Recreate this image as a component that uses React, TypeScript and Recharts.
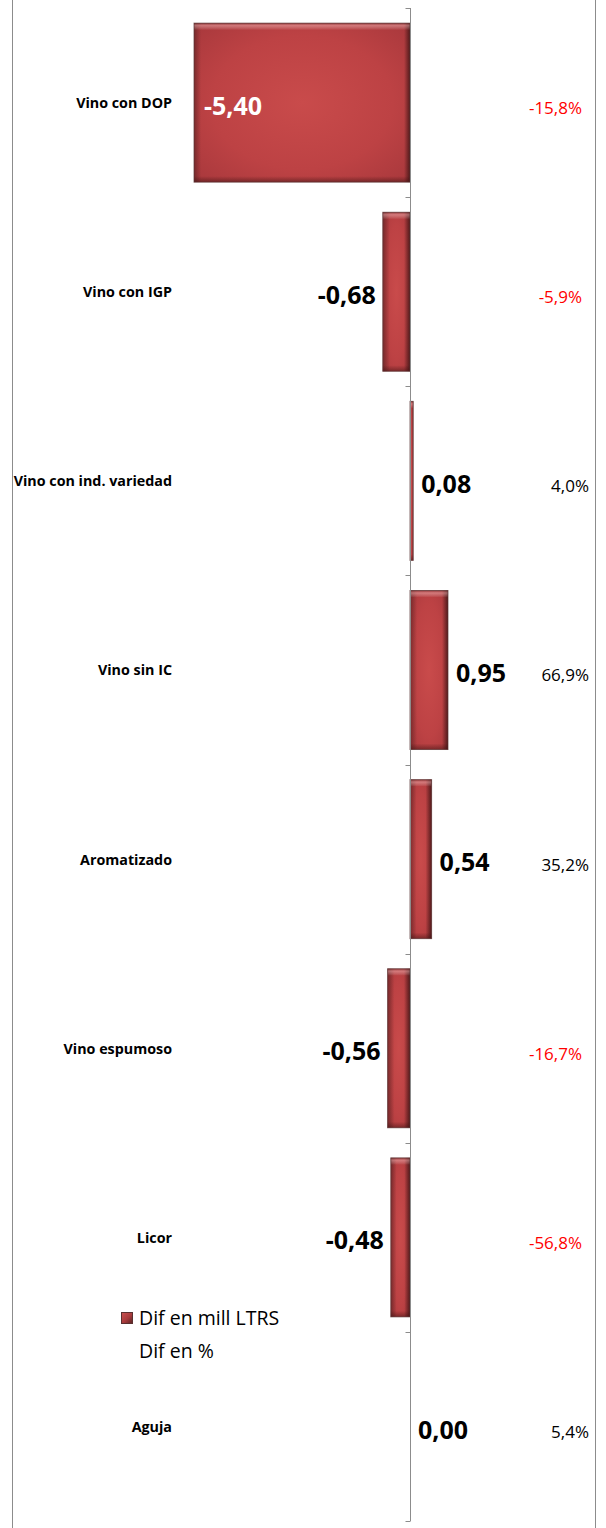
import React from 'react';
import { BarChart, Bar, XAxis, YAxis, ReferenceLine, LabelList, Legend } from 'recharts';

const categories = [
  'Vino con DOP',
  'Vino con IGP',
  'Vino con ind. variedad',
  'Vino sin IC',
  'Aromatizado',
  'Vino espumoso',
  'Licor',
  'Aguja',
];
const difMillLtrs = [-5.4, -0.68, 0.08, 0.95, 0.54, -0.56, -0.48, 0.0];
const difPct = [-15.8, -5.9, 4.0, 66.9, 35.2, -16.7, -56.8, 5.4];
const seriesNames = ['Dif en mill LTRS', 'Dif en %'];
const xDomain: [number, number] = [-5.5, 2];

const data = categories.map((name, i) => ({ name, mill: difMillLtrs[i], pct: difPct[i] }));

const FONT = "'Open Sans', sans-serif";

const fmt2 = (v: number) => (Math.abs(v) < 0.005 ? 0 : v).toFixed(2).replace('.', ',');
const fmtPct = (v: number) => v.toFixed(1).replace('.', ',') + '%';

function CategoryTick(props: any) {
  const { x, y, payload } = props;
  return (
    <text x={x} y={y} textAnchor="end" dominantBaseline="central" fontFamily={FONT} fontWeight={700} fontSize={14.3} fill="#000">
      {payload.value}
    </text>
  );
}

function PctTick(props: any) {
  const { x, y, payload } = props;
  const i = categories.indexOf(payload.value);
  const v = difPct[i];
  const neg = v < 0;
  return (
    <text x={x + (neg ? -4 : 3)} y={y + 5} textAnchor="end" dominantBaseline="central" fontFamily={FONT} fontSize={17} fill={neg ? '#ff0000' : '#000'}>
      {fmtPct(v)}
    </text>
  );
}

function BarShape(props: any) {
  const { x, y, width, height } = props;
  const left = Math.min(x, x + width);
  const w = Math.abs(width);
  const top = Math.min(y, y + height);
  const h = Math.abs(height);
  if (!w || !h) return <g />;
  const le = Math.min(w * 0.3, 7);
  const re = Math.min(w * 0.3, 6);
  return (
    <g>
      <rect x={left} y={top} width={w} height={h} fill="url(#barR)" />
      <rect x={left} y={top} width={le} height={h} fill="url(#edgeL)" />
      <rect x={left + w - re} y={top} width={re} height={h} fill="url(#edgeR)" />
      <rect x={left} y={top} width={w} height={Math.min(7, h)} fill="url(#edgeT)" />
      <rect x={left} y={top + h - Math.min(6, h)} width={w} height={Math.min(6, h)} fill="url(#edgeB)" />
      <rect x={left} y={top} width={w} height={h} fill="none" stroke="#5a3434" strokeOpacity={0.7} strokeWidth={1} />
    </g>
  );
}

function ValueLabel(props: any) {
  const vb = props.viewBox || props;
  const x = vb.x ?? props.x;
  const y = vb.y ?? props.y;
  const width = vb.width ?? props.width ?? 0;
  const height = vb.height ?? props.height ?? 0;
  const value = Number(props.value);
  const left = Math.min(x, x + width);
  const right = Math.max(x, x + width);
  const cy = Math.min(y, y + height) + Math.abs(height) / 2 + 2;
  const w = right - left;
  const common = { fontFamily: FONT, fontWeight: 700, fontSize: 25, dominantBaseline: 'central' as const };
  if (w > 120) {
    return (
      <text x={left + 10} y={cy} textAnchor="start" fill="#fff" {...common}>
        {fmt2(value)}
      </text>
    );
  }
  if (value < 0) {
    return (
      <text x={left - 7} y={cy} textAnchor="end" fill="#000" {...common}>
        {fmt2(value)}
      </text>
    );
  }
  return (
    <text x={right + 8} y={cy} textAnchor="start" fill="#000" {...common}>
      {fmt2(value)}
    </text>
  );
}

function ZeroAxis(props: any) {
  const { x1, y1, y2 } = props;
  const top = Math.min(y1, y2);
  const bottom = Math.max(y1, y2);
  const band = (bottom - top) / categories.length;
  const xs = Math.round(x1) + 0.5;
  const marks = [];
  for (let k = 0; k <= categories.length; k++) {
    const yy = Math.round(top + k * band) + 0.5;
    marks.push(<line key={k} x1={xs - 5} y1={yy} x2={xs} y2={yy} stroke="#8c8c8c" strokeWidth={1} />);
  }
  return (
    <g>
      <line x1={xs} y1={top} x2={xs} y2={bottom} stroke="#8c8c8c" strokeWidth={1} />
      {marks}
    </g>
  );
}

function LegendContent() {
  return (
    <div style={{ fontFamily: FONT, fontSize: 19.5, lineHeight: '33px', color: '#000' }}>
      {seriesNames.map((n, i) => (
        <div key={n} style={{ display: 'flex', alignItems: 'center', whiteSpace: 'nowrap' }}>
          <span
            style={{
              display: 'inline-block',
              width: 12,
              height: 12,
              marginRight: 6,
              boxSizing: 'border-box',
              background: i === 0 ? 'linear-gradient(135deg, #c85050, #a83a3c 55%, #5e2626)' : 'transparent',
              border: i === 0 ? '1px solid #5a3030' : 'none',
            }}
          />
          <span>{n}</span>
        </div>
      ))}
    </div>
  );
}

export default function App() {
  return (
    <div style={{ position: 'absolute', left: 0, top: 0, width: 606, height: 1528, overflow: 'hidden', background: '#fff' }}>
      <BarChart
        width={606}
        height={1528}
        data={data}
        layout="vertical"
        margin={{ top: 8, bottom: 7, left: 0, right: 0 }}
        barCategoryGap="8%"
      >
        <defs>
          <radialGradient id="barR" cx="0.5" cy="0.5" r="0.7">
            <stop offset="0" stopColor="#c94b4b" />
            <stop offset="0.6" stopColor="#bd4244" />
            <stop offset="1" stopColor="#a8383c" />
          </radialGradient>
          <linearGradient id="edgeL" x1="0" y1="0" x2="1" y2="0">
            <stop offset="0" stopColor="#4a1c1c" stopOpacity={0.55} />
            <stop offset="1" stopColor="#4a1c1c" stopOpacity={0} />
          </linearGradient>
          <linearGradient id="edgeR" x1="0" y1="0" x2="1" y2="0">
            <stop offset="0" stopColor="#2a0c0c" stopOpacity={0} />
            <stop offset="1" stopColor="#2a0c0c" stopOpacity={0.7} />
          </linearGradient>
          <linearGradient id="edgeT" x1="0" y1="0" x2="0" y2="1">
            <stop offset="0" stopColor="#6a2a2a" stopOpacity={0.5} />
            <stop offset="0.35" stopColor="#ffd0d0" stopOpacity={0.4} />
            <stop offset="1" stopColor="#ffffff" stopOpacity={0} />
          </linearGradient>
          <linearGradient id="edgeB" x1="0" y1="0" x2="0" y2="1">
            <stop offset="0" stopColor="#3a1010" stopOpacity={0} />
            <stop offset="1" stopColor="#3a1010" stopOpacity={0.5} />
          </linearGradient>
        </defs>
        <XAxis type="number" domain={xDomain} hide allowDataOverflow />
        <YAxis
          yAxisId="left"
          type="category"
          dataKey="name"
          width={190}
          axisLine={false}
          tickLine={false}
          tickSize={0}
          tickMargin={18}
          tick={<CategoryTick />}
          interval={0}
        />
        <YAxis
          yAxisId="right"
          orientation="right"
          type="category"
          dataKey="name"
          width={116}
          axisLine={false}
          tickLine={false}
          tickSize={0}
          tickMargin={96}
          tick={<PctTick />}
          interval={0}
        />
        <ReferenceLine x={0} yAxisId="left" stroke="#8c8c8c" shape={<ZeroAxis />} />
        <Bar
          yAxisId="left"
          dataKey="mill"
          name={seriesNames[0]}
          fill="#b83e40"
          shape={<BarShape />}
          isAnimationActive={false}
        >
          <LabelList dataKey="mill" content={<ValueLabel />} />
        </Bar>
        <Legend
          layout="vertical"
          align="center"
          verticalAlign="middle"
          content={<LegendContent />}
          wrapperStyle={{ left: 121, top: 1301, width: 220, height: 70 }}
        />
      </BarChart>
      <div
        style={{
          position: 'absolute',
          left: 12,
          top: -5,
          width: 582,
          height: 1545,
          borderLeft: '1px solid #8c8c8c',
          borderRight: '1px solid #8c8c8c',
          pointerEvents: 'none',
        }}
      />
    </div>
  );
}
